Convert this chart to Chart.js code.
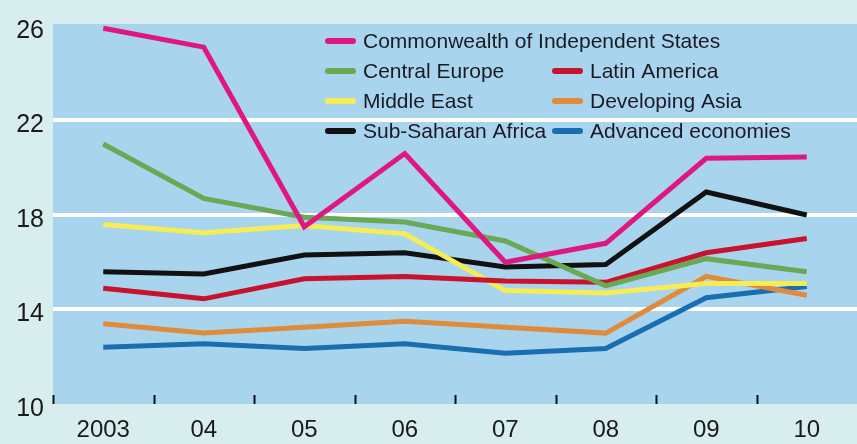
<!DOCTYPE html>
<html>
<head>
<meta charset="utf-8">
<script src="https://cdn.jsdelivr.net/npm/chart.js@4"></script>
<style>
  html, body { margin: 0; padding: 0; background: #d8eeee; }
  canvas { display: block; }
</style>
</head>
<body>
<canvas id="grafico" width="857" height="444"></canvas>
<script>
// ---------------------------------------------------------
// DATOS
// ---------------------------------------------------------
const anios = ['2003', '04', '05', '06', '07', '08', '09', '10'];
const yTicks = [10, 14, 18, 22, 26];

const cis        = [25.9, 25.1, 17.5, 20.6, 16.0, 16.8, 20.4, 20.45];
const centralEu  = [21.0, 18.7, 17.9, 17.7, 16.9, 15.0, 16.15, 15.6];
const latinAm    = [14.9, 14.45, 15.3, 15.4, 15.2, 15.15, 16.4, 17.0];
const middleEast = [17.6, 17.25, 17.55, 17.2, 14.8, 14.7, 15.1, 15.1];
const devAsia    = [13.4, 13.0, 13.25, 13.5, 13.25, 13.0, 15.4, 14.6];
const subSahara  = [15.6, 15.5, 16.3, 16.4, 15.8, 15.9, 18.97, 18.0];
const advanced   = [12.4, 12.55, 12.35, 12.55, 12.15, 12.35, 14.5, 14.97];

const FONT = '"Liberation Sans", Arial, sans-serif';

// ---------------------------------------------------------
// PLUGINS
// ---------------------------------------------------------
const fondo = {
    id: 'fondo',
    beforeDraw(chart) {
        const { ctx, chartArea: a } = chart;
        ctx.save();
        ctx.fillStyle = '#d8eeee';
        ctx.fillRect(0, 0, chart.width, chart.height);
        ctx.fillStyle = '#a9d4ee';
        ctx.fillRect(a.left, a.top, a.right - a.left, a.bottom - a.top);
        ctx.restore();
    }
};

// marcas cortas entre categorias, hacia arriba desde el eje
const marcas = {
    id: 'marcas',
    afterDatasetsDraw(chart) {
        const { ctx, chartArea: a, scales: { x } } = chart;
        const paso = x.getPixelForValue(1) - x.getPixelForValue(0);
        ctx.save();
        ctx.strokeStyle = '#111';
        ctx.lineWidth = 2;
        for (let i = 0; i < anios.length; i++) {
            const px = Math.round(x.getPixelForValue(i) - paso / 2) + 0.5;
            ctx.beginPath();
            ctx.moveTo(px, a.bottom);
            ctx.lineTo(px, a.bottom - 9);
            ctx.stroke();
        }
        ctx.restore();
    }
};

const leyenda = {
    id: 'leyenda',
    afterDraw(chart) {
        const { ctx, chartArea: a } = chart;
        ctx.save();
        ctx.font = '21px ' + FONT;
        ctx.textBaseline = 'middle';
        chart.data.datasets.forEach((ds, i) => {
            const fila = i === 0 ? 0 : Math.floor((i + 1) / 2);
            const col  = i === 0 ? 0 : (i + 1) % 2;
            const x0 = a.left + 272 + col * 227;
            const y0 = a.top + 17 + fila * 30;
            ctx.strokeStyle = ds.borderColor;
            ctx.lineWidth = 6;
            ctx.lineCap = 'round';
            ctx.beginPath();
            ctx.moveTo(x0 + 3, y0);
            ctx.lineTo(x0 + 28, y0);
            ctx.stroke();
            ctx.fillStyle = '#1a1a24';
            ctx.fillText(ds.label, x0 + 38, y0 + 1);
        });
        ctx.restore();
    }
};

// ---------------------------------------------------------
// GRAFICO
// ---------------------------------------------------------
function serie(label, data, color) {
    return { label, data, borderColor: color, backgroundColor: color, borderWidth: 5,
             pointRadius: 0, tension: 0, borderJoinStyle: 'miter', fill: false };
}

new Chart(document.getElementById('grafico'), {
    type: 'line',
    data: {
        labels: anios,
        datasets: [
            serie('Commonwealth of Independent States', cis, '#e0177f'),
            serie('Central Europe', centralEu, '#6aa953'),
            serie('Latin America', latinAm, '#c8122e'),
            serie('Middle East', middleEast, '#f6ec55'),
            serie('Developing Asia', devAsia, '#e08a3c'),
            serie('Sub-Saharan Africa', subSahara, '#111111'),
            serie('Advanced economies', advanced, '#1a6db0'),
        ]
    },
    options: {
        responsive: false,
        animation: false,
        layout: { padding: { top: 24, right: 0, left: 0, bottom: 0 } },
        plugins: { legend: { display: false }, tooltip: { enabled: false } },
        scales: {
            x: {
                offset: true,
                grid: { display: false },
                border: { display: false },
                ticks: { color: '#1a1a1a', font: { family: FONT, size: 24 }, padding: 4, maxRotation: 0 },
                afterFit(s) { s.height = 40; }
            },
            y: {
                min: 10, max: 26.08,
                afterBuildTicks(s) { s.ticks = yTicks.map(v => ({ value: v })); },
                grid: {
                    drawTicks: false,
                    lineWidth: 4,
                    color: c => (c.tick && c.tick.value > 10 && c.tick.value < 26) ? '#ffffff' : 'rgba(0,0,0,0)'
                },
                border: { display: false },
                ticks: { color: '#1a1a1a', font: { family: FONT, size: 25 }, padding: 9, labelOffset: 5 },
                afterFit(s) { s.width = 53; }
            }
        }
    },
    plugins: [fondo, marcas, leyenda]
});
</script>
</body>
</html>
